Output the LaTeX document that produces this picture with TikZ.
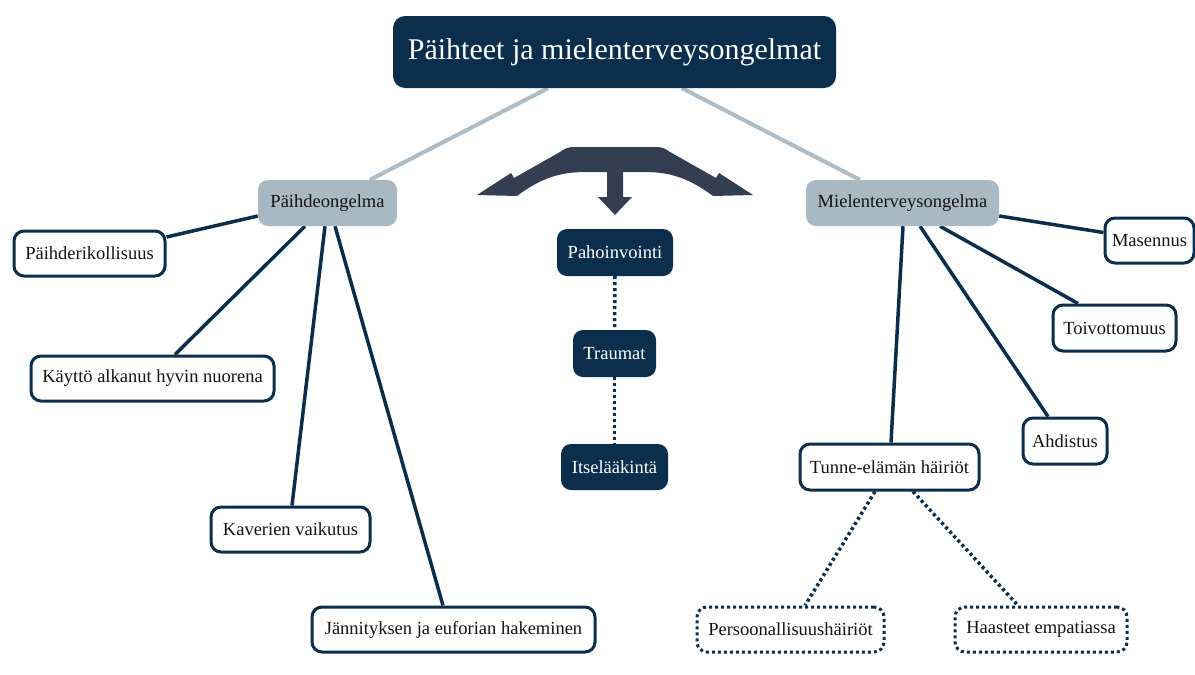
\documentclass[tikz,border=0pt]{standalone}
\usepackage{fontspec}
\setmainfont{Liberation Serif}
\usetikzlibrary{calc}
\definecolor{navy}{HTML}{0B2E4D}
\definecolor{lightfill}{HTML}{A9B9C4}
\definecolor{lightline}{HTML}{ADBDC7}
\definecolor{slate}{HTML}{333F50}
\definecolor{txt}{HTML}{141414}
\pgfdeclarelayer{bg}
\pgfsetlayers{bg,main}
\tikzset{
  x=1pt, y=-1pt,
  titlebox/.style={fill=navy, draw=none, rounded corners=12pt, text=white, font=\fontsize{30}{34}\selectfont, inner sep=0pt},
  mainbox/.style={fill=lightfill, draw=none, rounded corners=10pt, text=txt, font=\fontsize{18.5}{22}\selectfont, inner sep=0pt},
  leafbox/.style={fill=white, draw=navy, line width=3pt, rounded corners=10pt, text=txt, font=\fontsize{18.5}{22}\selectfont, inner sep=0pt},
  dotbox/.style={leafbox, dash pattern=on 3pt off 3pt},
  darkbox/.style={fill=navy, draw=none, rounded corners=10pt, text=white, font=\fontsize{18.5}{22}\selectfont, inner sep=0pt},
  lightconn/.style={draw=lightline, line width=4pt},
  darkconn/.style={draw=navy, line width=3.5pt},
  dotconn/.style={draw=navy, line width=3.5pt, dash pattern=on 3pt off 3pt},
}
\begin{document}
\begin{tikzpicture}
\useasboundingbox (0,0) rectangle (1195,675);
\begin{pgfonlayer}{bg}
\fill[white] (0,0) rectangle (1195,675);
\end{pgfonlayer}

% nodes
\node[titlebox, minimum width=443pt, minimum height=72pt] (title) at (614.5,52) {Päihteet ja mielenterveysongelmat};
\node[mainbox, minimum width=139pt, minimum height=46pt] (paihde) at (327.5,203) {Päihdeongelma};
\node[mainbox, minimum width=193pt, minimum height=46pt] (mielen) at (902.5,203) {Mielenterveysongelma};
\node[leafbox, minimum width=151pt, minimum height=45pt] (rikol) at (89.5,253.5) {Päihderikollisuus};
\node[leafbox, minimum width=243pt, minimum height=45pt] (kaytto) at (152.5,378.5) {Käyttö alkanut hyvin nuorena};
\node[leafbox, minimum width=159pt, minimum height=45pt] (kaver) at (290.5,529.5) {Kaverien vaikutus};
\node[leafbox, minimum width=283pt, minimum height=45pt] (jann) at (453.5,629.5) {Jännityksen ja euforian hakeminen};
\node[leafbox, minimum width=89pt, minimum height=45pt] (mas) at (1149.5,240.5) {Masennus};
\node[leafbox, minimum width=123pt, minimum height=46pt] (toiv) at (1114.5,328) {Toivottomuus};
\node[leafbox, minimum width=84pt, minimum height=46pt] (ahd) at (1065,441) {Ahdistus};
\node[leafbox, minimum width=179pt, minimum height=46pt] (tunne) at (889.5,467) {Tunne-elämän häiriöt};
\node[dotbox, minimum width=187pt, minimum height=45pt] (pers) at (790.5,629.5) {Persoonallisuushäiriöt};
\node[dotbox, minimum width=172pt, minimum height=45pt] (haas) at (1041,629.5) {Haasteet empatiassa};
\node[darkbox, minimum width=116pt, minimum height=47pt] (paho) at (615,252.5) {Pahoinvointi};
\node[darkbox, minimum width=83pt, minimum height=47pt] (trau) at (614.5,353.5) {Traumat};
\node[darkbox, minimum width=107pt, minimum height=46pt] (itse) at (614.5,467) {Itselääkintä};

% connectors behind nodes
\begin{pgfonlayer}{bg}
\draw[lightconn] ($(title.south)+(-66.5,0)$) -- ($(paihde.north)+(42.5,0)$);
\draw[lightconn] ($(title.south)+(67.5,0)$) -- ($(mielen.north)+(-42.5,0)$);
\draw[darkconn] ($(paihde.west)+(0,13)$) -- ($(rikol.east)+(0,-16.5)$);
\draw[darkconn] ($(paihde.south)+(-22.5,0)$) -- ($(kaytto.north)+(22.5,0)$);
\draw[darkconn] ($(paihde.south)+(-2.5,0)$) -- ($(kaver.north)+(1.5,0)$);
\draw[darkconn] ($(paihde.south)+(7.5,0)$) -- ($(jann.north)+(-10.5,0)$);
\draw[darkconn] ($(mielen.east)+(0,13)$) -- ($(mas.west)+(0,-8)$);
\draw[darkconn] ($(mielen.south)+(37.5,0)$) -- ($(toiv.north)+(-36.5,0)$);
\draw[darkconn] ($(mielen.south)+(17.5,0)$) -- ($(ahd.north)+(-17,0)$);
\draw[darkconn] ($(mielen.south)+(0.5,0)$) -- ($(tunne.north)+(1.5,0)$);
\draw[dotconn] ($(tunne.south)+(-14.5,0)$) -- ($(pers.north)+(14.5,0)$);
\draw[dotconn] ($(tunne.south)+(23.5,0)$) -- ($(haas.north)+(-23,0)$);
\draw[dotconn] (paho.south) -- (trau.north);
\draw[dotconn] (trau.south) -- (itse.north);
\end{pgfonlayer}

% central three-way arrow
\fill[slate] (477,195) -- (511,173) -- (514,178) -- (560,152)
  .. controls (566,148) .. (572,147) -- (658,147)
  .. controls (664,148) .. (670,152) -- (716,178) -- (719,173) -- (753,195)
  -- (713,196) .. controls (685,175) and (665,172) .. (643,172)
  -- (623,172) -- (623,197) -- (632,197) -- (615,215) -- (598,197)
  -- (607,197) -- (607,172) -- (587,172)
  .. controls (565,172) and (545,175) .. (517,196) -- cycle;
\end{tikzpicture}
\end{document}
